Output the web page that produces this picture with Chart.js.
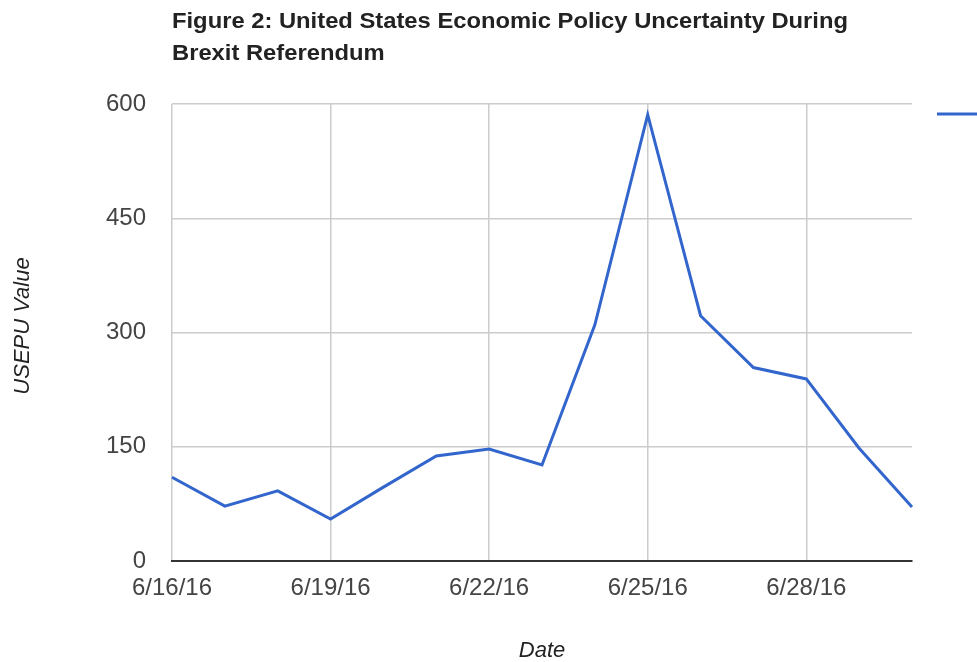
<!DOCTYPE html>
<html>
<head>
<meta charset="utf-8">
<title>Figure 2</title>
<script src="https://cdn.jsdelivr.net/npm/chart.js@4/dist/chart.umd.min.js"></script>
<style>
  html, body { margin: 0; padding: 0; background: #fff; }
  #chart { display: block; }
</style>
</head>
<body>
<canvas id="chart" width="977" height="662"></canvas>
<script>
const dates = ["6/16/16", "6/17/16", "6/18/16", "6/19/16", "6/20/16", "6/21/16", "6/22/16", "6/23/16",
  "6/24/16", "6/25/16", "6/26/16", "6/27/16", "6/28/16", "6/29/16", "6/30/16"];
const usepuValues = [110, 72, 92, 55, 97, 138, 147, 126, 310, 586, 322, 254, 239, 148, 71];
const yTicks = [0, 150, 300, 450, 600];
const titleLines = ["Figure 2: United States Economic Policy Uncertainty During", "Brexit Referendum"];
const xTitle = "Date";
const yTitle = "USEPU Value";

const FONT = "'Liberation Sans', Arial, sans-serif";
const LINE_COLOR = "#3366cc";

// title, axis titles and the clipped legend swatch on the right
const decorations = {
  id: "decorations",
  afterDraw(chart) {
    const ctx = chart.ctx;
    const area = chart.chartArea;
    ctx.save();

    ctx.fillStyle = "#222";
    ctx.font = "bold 22px " + FONT;
    ctx.textBaseline = "alphabetic";
    ctx.textAlign = "left";
    const sx = 676 / ctx.measureText(titleLines[0]).width;
    ctx.save();
    ctx.translate(area.left, 0);
    ctx.scale(sx, 1);
    ctx.fillText(titleLines[0], 0, 28);
    ctx.fillText(titleLines[1], 0, 60);
    ctx.restore();

    ctx.fillStyle = "#222";
    ctx.font = "italic 22px " + FONT;
    ctx.textAlign = "center";
    ctx.textBaseline = "middle";
    ctx.fillText(xTitle, (area.left + area.right) / 2, 651);

    ctx.save();
    ctx.translate(23, 326);
    ctx.rotate(-Math.PI / 2);
    ctx.fillText(yTitle, 0, 0);
    ctx.restore();

    ctx.strokeStyle = chart.data.datasets[0].borderColor;
    ctx.lineWidth = 3;
    ctx.beginPath();
    ctx.moveTo(area.right + 25, 114);
    ctx.lineTo(chart.width, 114);
    ctx.stroke();

    ctx.restore();
  }
};

new Chart(document.getElementById("chart"), {
  type: "line",
  data: {
    labels: dates,
    datasets: [{
      label: "USEPU",
      data: usepuValues,
      borderColor: LINE_COLOR,
      borderWidth: 3,
      pointRadius: 0,
      tension: 0,
      fill: false
    }]
  },
  options: {
    responsive: false,
    animation: false,
    layout: { padding: { left: 0, top: 104, right: 65, bottom: 0 } },
    plugins: {
      legend: { display: false },
      title: { display: false },
      tooltip: { enabled: false }
    },
    scales: {
      x: {
        offset: false,
        afterFit: (scale) => { scale.height = 101; },
        grid: {
          drawTicks: false,
          lineWidth: 1.5,
          color: (c) => (c.index % 3 === 0 ? "#cccccc" : "rgba(0,0,0,0)")
        },
        border: { display: true, color: "#333", width: 2 },
        ticks: {
          autoSkip: false,
          maxRotation: 0,
          padding: 13,
          color: "#444",
          font: { family: FONT, size: 24 },
          callback: (v, i) => (i % 3 === 0 ? dates[i] : "")
        }
      },
      y: {
        min: yTicks[0],
        max: yTicks[yTicks.length - 1],
        afterFit: (scale) => { scale.width = 172; },
        afterBuildTicks: (scale) => { scale.ticks = yTicks.map(v => ({ value: v })); },
        grid: { drawTicks: false, color: "#cccccc", lineWidth: 1.5 },
        border: { display: false },
        ticks: {
          padding: 26,
          color: "#444",
          font: { family: FONT, size: 24 }
        }
      }
    }
  },
  plugins: [decorations]
});
</script>
</body>
</html>
